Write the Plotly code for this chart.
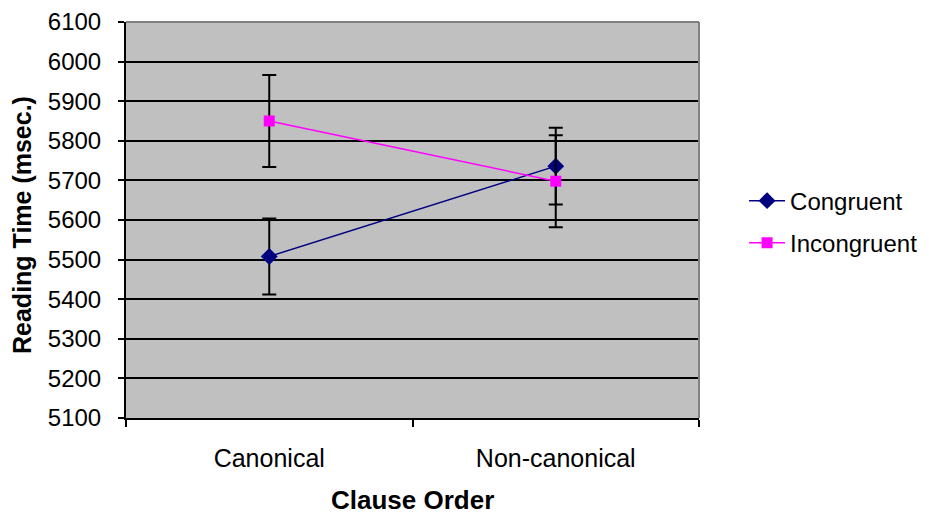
import plotly.graph_objects as go

categories = ["Canonical", "Non-canonical"]
congruent = [5508, 5736]
congruent_err = [96, 97]
incongruent = [5850, 5698]
incongruent_err = [116, 116]
y_ticks = list(range(5100, 6101, 100))

FONT = "Liberation Sans, Arial, sans-serif"

fig = go.Figure()
fig.add_trace(go.Scatter(
    x=categories, y=congruent, name="Congruent", mode="lines+markers",
    legendgroup="a",
    line=dict(color="#000080", width=1.5),
    marker=dict(symbol="diamond", size=13, color="#000080"),
    error_y=dict(type="data", array=congruent_err, color="black", thickness=2, width=7),
))
fig.add_trace(go.Scatter(
    x=categories, y=incongruent, name="Incongruent", mode="lines+markers",
    legendgroup="b",
    line=dict(color="#FF00FF", width=1.5),
    marker=dict(symbol="square", size=11, color="#FF00FF"),
    error_y=dict(type="data", array=incongruent_err, color="black", thickness=2, width=7),
))

fig.update_layout(
    width=921, height=506,
    margin=dict(l=118, r=230, t=14, b=96),
    paper_bgcolor="white", plot_bgcolor="#C0C0C0",
    font=dict(family=FONT, color="black"),
    showlegend=True,
    legend=dict(xref="container", yref="container", x=0.7992, y=0.577,
                xanchor="left", yanchor="middle",
                font=dict(size=24, family=FONT), bgcolor="rgba(0,0,0,0)",
                tracegroupgap=8, itemwidth=36),
    xaxis=dict(type="category", range=[-0.5, 1.5], tickson="boundaries",
               ticks="outside", ticklen=7, tickwidth=2, tickcolor="black",
               showline=True, linecolor="black", linewidth=2, showgrid=False,
               tickfont=dict(size=25, family=FONT), ticklabelstandoff=17,
               automargin=False),
    yaxis=dict(range=[5100, 6100], tickvals=y_ticks, ticks="outside", ticklen=6,
               tickwidth=2, tickcolor="black", showline=True, linecolor="black",
               linewidth=2, showgrid=True, gridcolor="black", gridwidth=2,
               zeroline=False, tickfont=dict(size=24, family=FONT),
               ticklabelstandoff=12, ticklabeloverflow="allow", automargin=False),
    annotations=[
        dict(text="<b>Clause Order</b>", x=0.5, y=-0.2, xref="paper", yref="paper",
             xanchor="center", yanchor="middle", showarrow=False,
             font=dict(size=26, family=FONT), yshift=-3),
        dict(text="<b>Reading Time (msec.)</b>", x=0, y=0.5, xref="paper", yref="paper",
             xanchor="center", yanchor="middle", textangle=-90, showarrow=False,
             font=dict(size=25, family=FONT), xshift=-104, yshift=-5),
    ],
    shapes=[
        dict(type="line", xref="paper", yref="paper", x0=0, x1=1, y0=1, y1=1,
             line=dict(color="#808080", width=2), layer="above"),
        dict(type="line", xref="paper", yref="paper", x0=1, x1=1, y0=0, y1=1,
             line=dict(color="#808080", width=2), layer="above"),
    ],
)
fig.write_html("out.html")
